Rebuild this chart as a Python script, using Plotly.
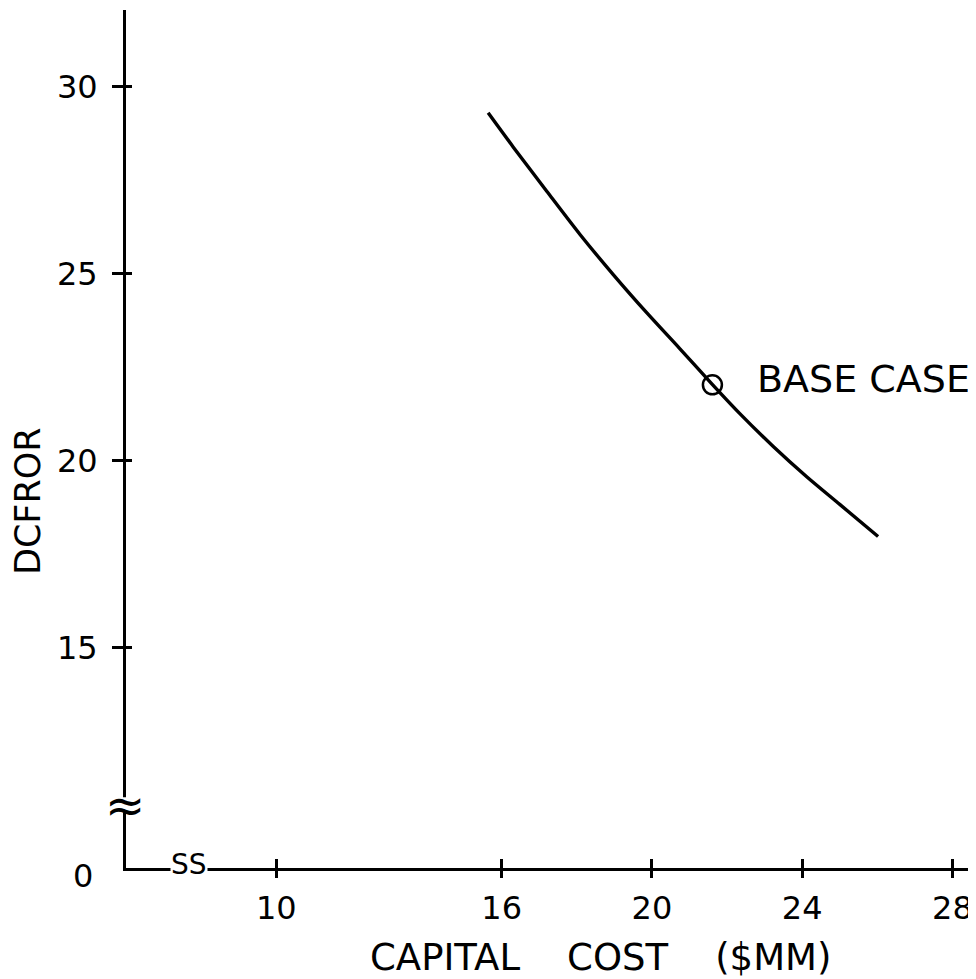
import plotly.graph_objects as go

# Data
capital_cost = [15.64, 16.31, 17.20, 18.08, 18.97, 19.86, 20.74, 21.60, 22.34, 23.23, 24.12, 25.00, 26.02]
dcfror = [29.31, 28.39, 27.21, 26.06, 24.98, 23.96, 23.00, 22.05, 21.26, 20.38, 19.57, 18.83, 17.97]
base_case_cost = [21.61]
base_case_dcfror = [22.03]

x_tickvals = [10, 16, 20, 24, 28]
x_ticktext = ["10", "16", "20", "24", "28"]
y_tickvals = [15, 20, 25, 30]
y_ticktext = ["15", "20", "25", "30"]

x_range = [6.0, 28.6]
y_range = [9.10, 32.06]
x_break = 7.68
y_break = 10.79

FONT = "DejaVu Sans"

fig = go.Figure()
fig.add_trace(go.Scatter(
    x=capital_cost, y=dcfror, mode="lines",
    line=dict(color="black", width=3.4, shape="spline", smoothing=0.8),
    showlegend=False, hoverinfo="skip"))
fig.add_trace(go.Scatter(
    x=base_case_cost, y=base_case_dcfror, mode="markers",
    marker=dict(symbol="circle-open", size=19, color="black", line=dict(width=2.5)),
    showlegend=False, hoverinfo="skip"))
# helper trace on overlay axes (for crossing tick marks)
fig.add_trace(go.Scatter(x=[], y=[], xaxis="x2", yaxis="y2", showlegend=False))

axis_common = dict(showgrid=False, zeroline=False, tickmode="array", tickcolor="black",
                   tickwidth=2.5, fixedrange=True, automargin=False)

fig.update_layout(
    width=968, height=971,
    margin=dict(l=118, r=1, t=2, b=111),
    paper_bgcolor="white", plot_bgcolor="white",
    font=dict(family=FONT, color="black"),
    xaxis=dict(range=x_range, tickvals=x_tickvals, ticktext=x_ticktext,
               showline=True, linecolor="black", linewidth=3,
               ticks="outside", ticklen=7, ticklabelstandoff=3,
               tickfont=dict(size=32, family=FONT),
               **axis_common),
    yaxis=dict(range=y_range, tickvals=y_tickvals, ticktext=y_ticktext,
               showline=True, linecolor="black", linewidth=3,
               ticks="outside", ticklen=11, ticklabelstandoff=8,
               tickfont=dict(size=32, family=FONT),
               **axis_common),
    xaxis2=dict(range=x_range, tickvals=x_tickvals, overlaying="x", anchor="y2",
                ticks="inside", ticklen=9, showticklabels=False, showline=False,
                **axis_common),
    yaxis2=dict(range=y_range, tickvals=y_tickvals, overlaying="y", anchor="x2",
                ticks="inside", ticklen=6, showticklabels=False, showline=False,
                **axis_common),
)

# axis titles
fig.add_annotation(xref="x", yref="paper", x=18.62, y=0, yanchor="middle", yshift=-89,
                   text="CAPITAL\u00a0\u00a0\u00a0\u00a0COST\u00a0\u00a0\u00a0\u00a0($MM)",
                   showarrow=False, font=dict(size=37, family=FONT))
fig.add_annotation(xref="paper", yref="y", x=0, y=18.92, xanchor="center", yanchor="middle",
                   xshift=-98, textangle=-90,
                   text="DCFROR", showarrow=False, font=dict(size=35, family=FONT))

# axis breaks
fig.add_shape(type="rect", xref="paper", yref="y", x0=-0.02, x1=0.02,
              y0=y_break - 0.2, y1=y_break + 0.2,
              fillcolor="white", line=dict(width=0), layer="above")
fig.add_annotation(xref="paper", yref="y", x=0, y=y_break, text="≈",
                   xanchor="center", yanchor="middle",
                   showarrow=False, font=dict(size=48, family=FONT), xshift=-1)
fig.add_annotation(xref="x", yref="y", x=x_break, y=y_range[0], text="SS",
                   showarrow=False, font=dict(size=28, family=FONT), yshift=4,
                   bgcolor="white", borderpad=0)
# origin label
fig.add_annotation(xref="paper", yref="y", x=0, y=y_range[0], text="0",
                   showarrow=False, xanchor="right", xshift=-31, yshift=-8,
                   font=dict(size=32, family=FONT))
# base case label
fig.add_annotation(xref="x", yref="y", x=base_case_cost[0], y=base_case_dcfror[0],
                   text="BASE CASE", showarrow=False, xanchor="left", xshift=43, yshift=6,
                   font=dict(size=38, family=FONT))

fig.write_html("out.html")
